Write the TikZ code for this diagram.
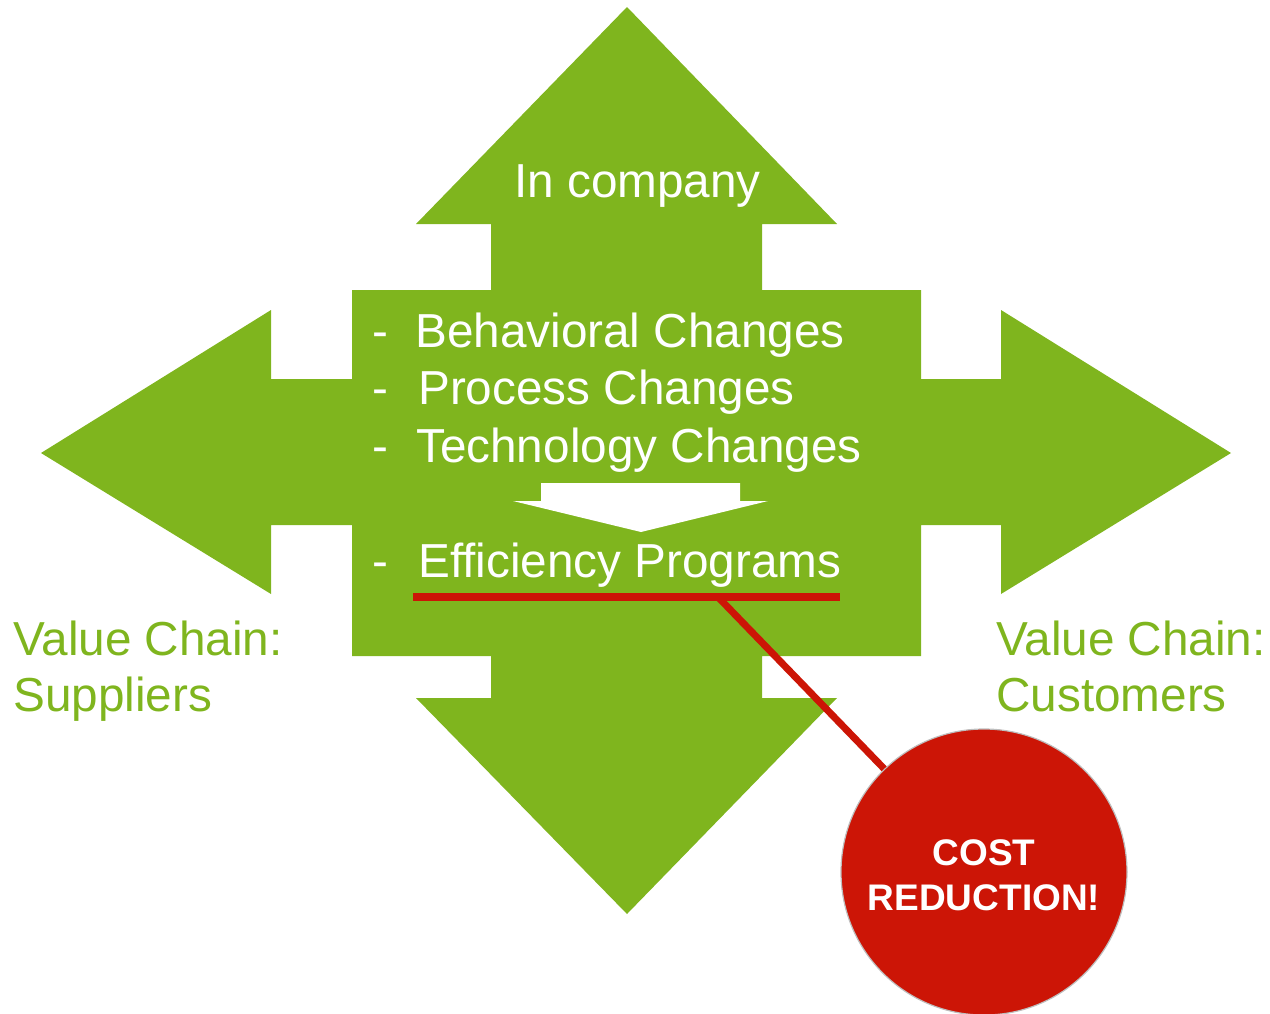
\documentclass[tikz,border=0pt]{standalone}
\usepackage{fontspec}
\setmainfont{Liberation Sans}
\definecolor{leaf}{RGB}{127,181,30}
\definecolor{alarm}{RGB}{204,21,6}
\definecolor{rim}{RGB}{190,190,190}
\tikzset{
  big/.style={font=\fontsize{47.7}{56}\selectfont, inner sep=0pt, anchor=base west},
  onleaf/.style={big, text=white},
  sidetxt/.style={big, text=leaf, align=left},
  redline/.style={draw=alarm, line width=7pt},
  costtxt/.style={text=white, font=\bfseries\fontsize{37}{45}\selectfont, inner sep=0pt, anchor=base},
}
\begin{document}
\begin{tikzpicture}[x=1pt,y=-1pt]
\useasboundingbox (0,0) rectangle (1270,1013);
% green cross of arrows
\fill[leaf] (627,7) -- (837,224) -- (762,224) -- (762,290) -- (921,290) -- (921,379)
  -- (1001,379) -- (1001,310) -- (1231,453) -- (1001,594) -- (1001,525) -- (921,525)
  -- (921,656) -- (762,656) -- (762,698) -- (837,698) -- (627,914) -- (416,698)
  -- (491,698) -- (491,656) -- (352,656) -- (352,525) -- (271,525) -- (271,594)
  -- (41,453) -- (271,310) -- (271,379) -- (352,379) -- (352,290) -- (491,290)
  -- (491,224) -- (416,224) -- cycle;
% white arrow
\fill[white] (541,483) -- (740,483) -- (740,501) -- (768,501) -- (641,532)
  -- (513,501) -- (541,501) -- cycle;
% texts
\node[onleaf] (inco) at (514,197) {In company};
\node[onleaf] (d1) at (372,347) {-};
\node[onleaf] (t1) at (415,347) {Behavioral Changes};
\node[onleaf] (d2) at (372,404) {-};
\node[onleaf] (t2) at (418,404) {Process Changes};
\node[onleaf] (d3) at (372,462) {-};
\node[onleaf] (t3) at (416,462) {Technology Changes};
\node[onleaf] (d4) at (372,577) {-};
\node[onleaf] (t4) at (418,577) {Efficiency Programs};
\node[sidetxt] (sup) at (13,655) {Value Chain:};
\node[sidetxt] (sup2) at (13,711) {Suppliers};
\node[sidetxt] (cus) at (996,655) {Value Chain:};
\node[sidetxt] (cus2) at (996,711) {Customers};
% underline and callout
\coordinate (ulA) at (413,597);
\coordinate (ulB) at (840,597);
\coordinate (ulC) at (718,597);
\draw[alarm, line width=7.5pt] (ulA) -- (ulB);
\node[circle, fill=alarm, draw=rim, line width=1.2pt, minimum size=286pt, inner sep=0pt] (cost) at (984,872) {};
\node[costtxt] (c1) at (984,865) {COST};
\node[costtxt] (c2) at (984,910) {REDUCTION!};
\draw[redline] (ulC) -- (cost);
\end{tikzpicture}
\end{document}
